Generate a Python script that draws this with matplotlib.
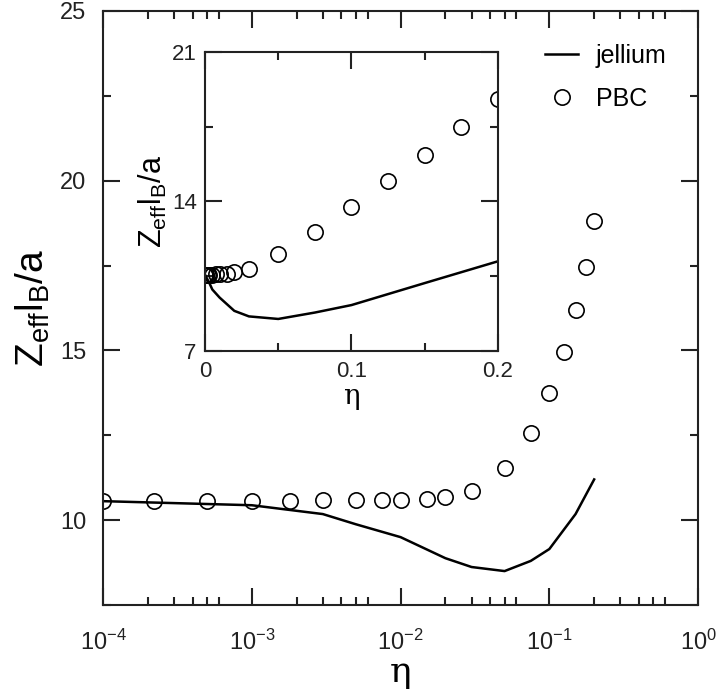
import matplotlib
matplotlib.use("Agg")
import matplotlib.pyplot as plt
import numpy as np
from matplotlib.ticker import LogLocator, MultipleLocator, NullFormatter

plt.rcParams['font.family'] = ['Liberation Sans', 'DejaVu Sans']
plt.rcParams['mathtext.fontset'] = 'custom'
plt.rcParams['mathtext.rm'] = 'Liberation Sans'
plt.rcParams['mathtext.it'] = 'Liberation Sans'

# jellium curve
eta_jel = [1e-4, 1e-3, 3e-3, 5e-3, 1e-2, 2e-2, 3e-2, 5e-2, 7.5e-2, 0.1, 0.15, 0.2]
z_jel = [10.56, 10.44, 10.18, 9.88, 9.5, 8.88, 8.62, 8.5, 8.8, 9.15, 10.18, 11.2]

# PBC points
eta_pbc = [1e-4, 2.2e-4, 5e-4, 1e-3, 1.8e-3, 3e-3, 5e-3, 7.5e-3, 1e-2, 1.5e-2, 2e-2,
           3e-2, 5e-2, 7.5e-2, 0.1, 0.125, 0.15, 0.175, 0.2]
z_pbc = [10.56, 10.56, 10.56, 10.56, 10.57, 10.58, 10.58, 10.59, 10.59, 10.62, 10.68,
         10.85, 11.53, 12.58, 13.74, 14.94, 16.18, 17.47, 18.8]

ylab = r'$\mathregular{Z_{eff}l_B/a}$'

fig = plt.figure(figsize=(7.17, 6.96), dpi=100)
ax = fig.add_axes([0.1437, 0.1307, 0.830, 0.8535])

ax.plot(eta_jel, z_jel, color='black', lw=1.8, label='jellium')
ax.plot(eta_pbc, z_pbc, 'o', ms=11, mfc='none', mec='black', mew=1.2, label='PBC')
ax.set_xscale('log')
ax.set_xlim(1e-4, 1)
ax.set_ylim(7.5, 25)
ax.xaxis.set_major_locator(LogLocator(base=10, numticks=10))
ax.xaxis.set_minor_locator(LogLocator(base=10, subs=[2, 3, 4, 5, 6], numticks=20))
ax.xaxis.set_minor_formatter(NullFormatter())
ax.yaxis.set_major_locator(MultipleLocator(5))
ax.yaxis.set_minor_locator(MultipleLocator(2.5))
ax.tick_params(which='both', direction='in', top=True, right=True, width=1.5, colors='#222222')
ax.tick_params(which='major', length=12, labelsize=17)
ax.tick_params(which='minor', length=6)
ax.tick_params(axis='x', which='major', pad=18)
ax.tick_params(axis='y', which='major', pad=12)
for s in ax.spines.values():
    s.set_linewidth(1.5)
    s.set_color('#222222')
ax.set_xlabel('η', fontsize=26, family=['DejaVu Serif'], labelpad=0)
ax.set_ylabel(ylab, fontsize=28, labelpad=6)
ax.legend(loc='upper right', bbox_to_anchor=(0.985, 0.982), frameon=False, fontsize=18,
          handlelength=1.35, handletextpad=0.7, labelspacing=0.75)

# inset
ins = fig.add_axes([0.2859, 0.4957, 0.4086, 0.4296])
ins.plot(eta_jel, z_jel, color='black', lw=1.8)
ins.plot(eta_pbc, z_pbc, 'o', ms=11, mfc='none', mec='black', mew=1.2)
ins.set_xlim(0, 0.2)
ins.set_ylim(7, 21)
ins.set_xticks([0, 0.1, 0.2])
ins.set_xticklabels(['0', '0.1', '0.2'])
ins.xaxis.set_minor_locator(MultipleLocator(0.05))
ins.yaxis.set_major_locator(MultipleLocator(7))
ins.yaxis.set_minor_locator(MultipleLocator(3.5))
ins.tick_params(which='both', direction='in', top=True, right=True, width=1.5, colors='#222222')
ins.tick_params(which='major', length=12, labelsize=16, pad=6)
ins.tick_params(which='minor', length=6)
ins.tick_params(axis='x', which='major', pad=7)
for s in ins.spines.values():
    s.set_linewidth(1.5)
    s.set_color('#222222')
ins.set_xlabel('η', fontsize=20, family=['DejaVu Serif'], labelpad=1)
ins.set_ylabel(ylab, fontsize=22, labelpad=2)

fig.savefig('out.png', dpi=100)
